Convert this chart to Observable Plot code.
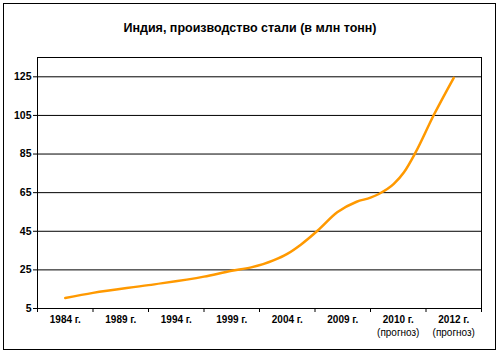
<!DOCTYPE html>
<html>
<head>
<meta charset="utf-8">
<script src="https://cdn.jsdelivr.net/npm/d3@7"></script>
<script src="https://cdn.jsdelivr.net/npm/@observablehq/plot@0.6"></script>
<style>
  html, body { margin: 0; padding: 0; background: #fff; }
  #wrap { position: relative; width: 500px; height: 355px; overflow: hidden; font-family: "Liberation Sans", Arial, sans-serif; }
  #border { position: absolute; left: 3px; top: 3px; width: 491px; height: 345px; border: 1px solid #000; }
  #title { position: absolute; left: 0; width: 500px; top: 21px; text-align: center; font-size: 12.5px; font-weight: bold; color: #000; }
  #chart { position: absolute; left: 0; top: 0; }
</style>
</head>
<body>
<div id="wrap">
  <div id="border"></div>
  <div id="title">Индия, производство стали (в млн тонн)</div>
  <div id="chart"></div>
</div>
<script>
const categories = ["1984 г.", "1989 г.", "1994 г.", "1999 г.", "2004 г.", "2009 г.", "2010 г.", "2012 г."];
const subLabels = ["", "", "", "", "", "", "(прогноз)", "(прогноз)"];
const yTicks = [5, 25, 45, 65, 85, 105, 125];
// positions along the category axis (0 = first category centre) and values
const linePos = [0, 0.5, 1.5, 2.5, 3, 3.35, 3.75, 4, 4.25, 4.55, 4.9, 5.25, 5.5, 5.65, 5.92, 6.1, 6.31, 6.64, 7];
const lineValues = [10.4, 13.1, 17.1, 21.5, 24.5, 26.3, 29.9, 33.3, 38.2, 45.4, 54.8, 60.3, 62.4, 64.3, 69.5, 75.4, 85.7, 105.2, 124.5];

const lineData = linePos.map((p, i) => ({pos: p, value: lineValues[i]}));
const catData = categories.map((c, i) => ({i, label: c, sub: subLabels[i]}));
const boundaries = d3.range(categories.length + 1).map(i => i - 0.5);

const chart = Plot.plot({
  width: 500,
  height: 355,
  marginLeft: 37,
  marginRight: 19,
  marginTop: 57,
  marginBottom: 47,
  style: {fontFamily: "'Liberation Sans', Arial, sans-serif", background: "transparent"},
  x: {domain: [-0.5, categories.length - 0.5], axis: null},
  y: {domain: [5, 135], axis: null},
  marks: [
    Plot.ruleY(yTicks.slice(1), {stroke: "#000", strokeWidth: 1}),
    Plot.frame({stroke: "#000", strokeWidth: 1}),
    Plot.axisY(yTicks, {tickSize: 4, tickPadding: 2, fontSize: 10.5, fontWeight: "bold", stroke: "#000", color: "#000", label: null}),
    Plot.axisX(boundaries, {tickSize: 4, tickFormat: () => "", stroke: "#000", label: null}),
    Plot.text(catData, {x: "i", text: "label", frameAnchor: "bottom", dy: 14, fontSize: 10, fontWeight: "bold", fill: "#000"}),
    Plot.text(catData, {x: "i", text: "sub", frameAnchor: "bottom", dy: 27, fontSize: 10, fill: "#000"}),
    Plot.line(lineData, {x: "pos", y: "value", stroke: "#ff9900", strokeWidth: 2.5, curve: "monotone-x"})
  ]
});
document.getElementById("chart").appendChild(chart);
</script>
</body>
</html>
